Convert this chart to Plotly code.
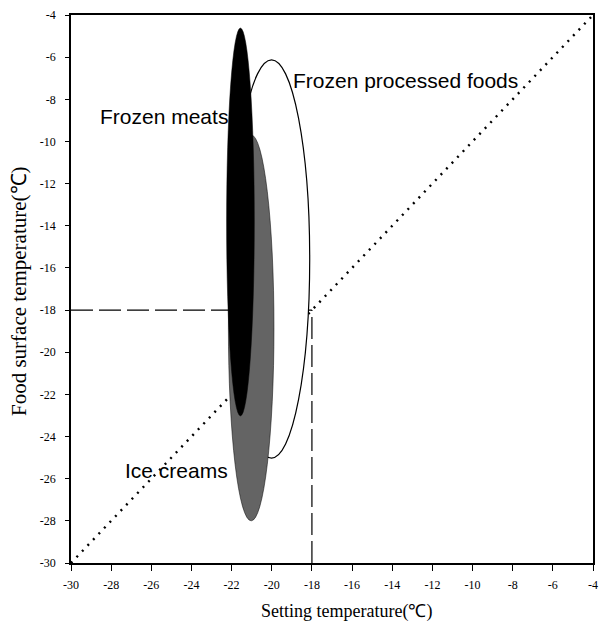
import plotly.graph_objects as go

# Storage groups and the extent of each measured temperature envelope
groups = ["Frozen processed foods", "Ice creams", "Frozen meats"]
set_min = [-21.91, -22.16, -22.25]
set_max = [-18.11, -19.89, -20.87]
surf_min = [-25.02, -28.00, -23.02]
surf_max = [-6.13, -9.69, -4.62]
fills = ["white", "rgb(100,100,100)", "black"]

# Where each group label sits (setting temp, surface temp)
label_x = [-19.05, -27.39, -28.67]
label_y = [-7.10, -25.60, -8.80]

# Reference lines
diag_x = [-30, -4]
diag_y = [-30, -4]
limit = -18
axis_lo = -30
axis_hi = -4
ticks = list(range(-30, -3, 2))

fig = go.Figure()

# 1:1 line (setting temperature equals surface temperature)
fig.add_trace(go.Scatter(x=diag_x, y=diag_y, mode="lines",
                         line=dict(color="black", width=2.4, dash="2px,6px"),
                         hoverinfo="skip", showlegend=False))
# -18 degree guides
fig.add_trace(go.Scatter(x=[axis_lo, limit], y=[limit, limit], mode="lines",
                         line=dict(color="black", width=1.2, dash="22px,6px"),
                         hoverinfo="skip", showlegend=False))
fig.add_trace(go.Scatter(x=[limit, limit], y=[axis_lo, limit], mode="lines",
                         line=dict(color="black", width=1.2, dash="22px,6px"),
                         hoverinfo="skip", showlegend=False))

# Envelopes as ellipses, drawn back to front
for g, x0, x1, y0, y1, fc in zip(groups, set_min, set_max, surf_min, surf_max, fills):
    fig.add_shape(type="circle", xref="x", yref="y",
                  x0=x0, x1=x1, y0=y0, y1=y1,
                  fillcolor=fc,
                  line=dict(color="black", width=1.2 if fc == "white" else 0.5),
                  layer="above")

for g, lx, ly in zip(groups, label_x, label_y):
    fig.add_annotation(x=lx, y=ly, xref="x", yref="y", text=g, showarrow=False,
                       xanchor="left", yanchor="middle",
                       font=dict(family="Liberation Sans, Arial", size=21, color="black"))

# Axis titles
fig.add_annotation(x=0.5275, y=-0.088, xref="paper", yref="paper",
                   text="Setting temperature(℃)", showarrow=False,
                   xanchor="center", yanchor="middle",
                   font=dict(family="Liberation Serif, Times New Roman", size=18, color="black"))
fig.add_annotation(x=-0.100, y=0.496, xref="paper", yref="paper",
                   text="Food surface temperature(℃)", showarrow=False, textangle=-90,
                   xanchor="center", yanchor="middle",
                   font=dict(family="Liberation Serif, Times New Roman", size=21, color="black"))

axis_common = dict(
    tickmode="array", tickvals=ticks, ticktext=[str(t) for t in ticks],
    showgrid=False, zeroline=False,
    showline=True, linecolor="black", linewidth=1.5, mirror=True,
    ticks="outside", tickcolor="black", tickwidth=1.2,
    tickfont=dict(family="Liberation Serif, Times New Roman", size=12, color="black"),
    range=[axis_lo, axis_hi],
)
fig.update_xaxes(**axis_common, ticklen=6, ticklabelstandoff=4)
fig.update_yaxes(**axis_common, ticklen=4, ticklabelstandoff=7)

fig.update_layout(
    width=601, height=630,
    margin=dict(l=71, r=3, t=15, b=67),
    plot_bgcolor="white", paper_bgcolor="white",
    showlegend=False,
)

fig.write_html("out.html")
